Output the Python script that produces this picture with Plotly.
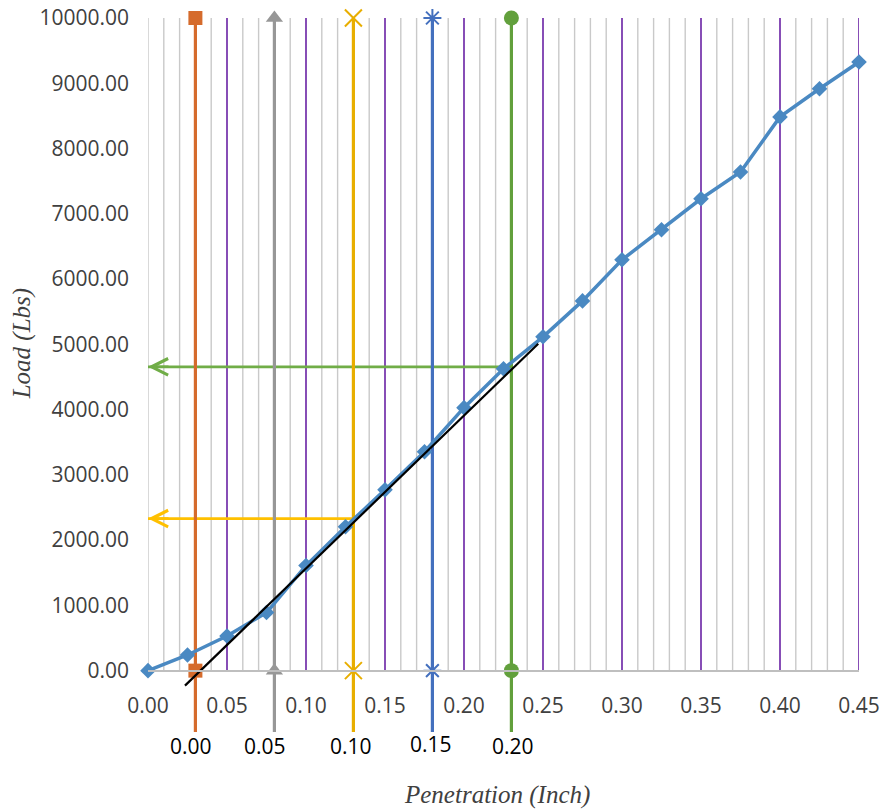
import plotly.graph_objects as go

# ---------------- data ----------------
penetration = [0.000, 0.025, 0.050, 0.075, 0.100, 0.125, 0.150, 0.175, 0.200, 0.225,
               0.250, 0.275, 0.300, 0.325, 0.350, 0.375, 0.400, 0.425, 0.450]
load = [0, 240, 530, 890, 1610, 2205, 2770, 3355, 4030, 4625,
        5115, 5665, 6295, 6755, 7230, 7640, 8485, 8915, 9325]

corr_x = [0.03, 0.08, 0.13, 0.18, 0.23]
corr_labels = ["0.00", "0.05", "0.10", "0.15", "0.20"]

arrow_x = [0.13, 0.23]
arrow_load = [2330, 4655]

trend_x = [0.0234, 0.247]
trend_y = [-230, 5010]

x_ticks = [0.00, 0.05, 0.10, 0.15, 0.20, 0.25, 0.30, 0.35, 0.40, 0.45]
y_ticks = [0, 1000, 2000, 3000, 4000, 5000, 6000, 7000, 8000, 9000, 10000]
minor_grid = [i / 100 for i in range(0, 46)]

# ---------------- styles ----------------
Y_MIN, Y_MAX = -940, 10000
X_MIN, X_MAX = 0.0, 0.45
corr_colors = ["#D56B2C", "#979797", "#E8AE00", "#4470BE", "#62A03C"]
corr_symbols = ["square", "triangle-up", "x-thin-open", "asterisk-open", "circle"]
corr_sizes = [14, 15, 17, 15, 15]
label_xshift = [-4, -9, -2, -1, 2]
label_yshift = [-14, -14, -14, -12, -14]
arrow_colors = ["#FFC000", "#70AD47"]
TICK_FONT = dict(family="Open Sans", size=21, color="#404040")
TITLE_FONT = dict(family="Liberation Serif", size=25, color="#404040")

fig = go.Figure()

# horizontal arrow shafts (under the vertical lines)
for xc, yl, col in zip(arrow_x, arrow_load, arrow_colors):
    fig.add_trace(go.Scatter(x=[X_MIN, xc], y=[yl, yl], mode="lines",
                             line=dict(color=col, width=2.7), hoverinfo="skip",
                             showlegend=False))

# corrected-origin vertical lines
for xc, col, sym, sz in zip(corr_x, corr_colors, corr_symbols, corr_sizes):
    thin = ("thin" in sym) or ("asterisk" in sym)
    fig.add_trace(go.Scatter(
        x=[xc, xc, xc], y=[Y_MAX, 0, Y_MIN], mode="lines+markers",
        line=dict(color=col, width=3.2),
        marker=dict(symbol=sym, size=[sz, sz, 0], color=col, opacity=1,
                    line=dict(color=col, width=2 if thin else 0)),
        opacity=1, cliponaxis=False, showlegend=False, hoverinfo="skip"))

# main load curve
fig.add_trace(go.Scatter(
    x=penetration, y=load, mode="lines+markers",
    line=dict(color="#4A89C2", width=3.5),
    marker=dict(symbol="diamond", size=12, color="#4A89C2", opacity=1),
    cliponaxis=False, showlegend=False))

# tangent line
fig.add_trace(go.Scatter(x=trend_x, y=trend_y, mode="lines",
                         line=dict(color="#000000", width=2.2),
                         showlegend=False, hoverinfo="skip"))

shapes = []
for g in minor_grid:
    major = abs((g * 100) % 5) < 1e-6 and g > 0
    shapes.append(dict(type="line", xref="x", yref="y", x0=g, x1=g, y0=0, y1=Y_MAX,
                       layer="below",
                       line=dict(color="#7A3AAE" if major else "#C9C9C9",
                                 width=1.8 if major else 1.4)))

annotations = []
# arrowheads
for yl, col in zip(arrow_load, arrow_colors):
    annotations.append(dict(x=X_MIN, y=yl, xref="x", yref="y", ax=22, ay=0,
                            showarrow=True, arrowhead=5, arrowsize=1.3,
                            arrowwidth=2.5, arrowcolor=col, text="", standoff=0))
# corrected labels
for xc, lab, xs, ys in zip(corr_x, corr_labels, label_xshift, label_yshift):
    annotations.append(dict(x=xc, y=Y_MIN, xref="x", yref="y", text=lab,
                            showarrow=False, yanchor="middle", xanchor="center",
                            xshift=xs, yshift=ys,
                            font=dict(family="Open Sans", size=21, color="#000000")))
# axis titles
annotations.append(dict(x=0.5, y=0, xref="paper", yref="paper", yanchor="middle",
                        xshift=-7, yshift=-63, showarrow=False,
                        text="<i>Penetration (Inch)</i>", font=TITLE_FONT))
annotations.append(dict(x=0, y=5000, xref="paper", yref="y", xanchor="center",
                        yanchor="middle", xshift=-126, showarrow=False, textangle=-90,
                        text="<i>Load (Lbs)</i>", font=TITLE_FONT))

fig.update_layout(
    width=883, height=810,
    margin=dict(l=148, r=24, t=18, b=78, autoexpand=False),
    paper_bgcolor="white", plot_bgcolor="white",
    shapes=shapes, annotations=annotations,
    xaxis=dict(range=[X_MIN, X_MAX], anchor="free", automargin=False,
               position=(0 - Y_MIN) / (Y_MAX - Y_MIN),
               tickvals=x_ticks, tickformat=".2f", ticks="",
               showgrid=False, zeroline=False,
               showline=True, linecolor="#BFBFBF", linewidth=1.5,
               tickfont=TICK_FONT, ticklabelstandoff=16),
    yaxis=dict(range=[Y_MIN, Y_MAX], tickvals=y_ticks, tickformat=".2f", ticks="",
               automargin=False, showgrid=False, zeroline=False, showline=False,
               tickfont=TICK_FONT, ticklabelstandoff=18),
)

fig.write_html("out.html",
               config={"displayModeBar": False},
               post_script="document.body.style.margin='0px';"
                           "document.body.style.overflow='hidden';")
